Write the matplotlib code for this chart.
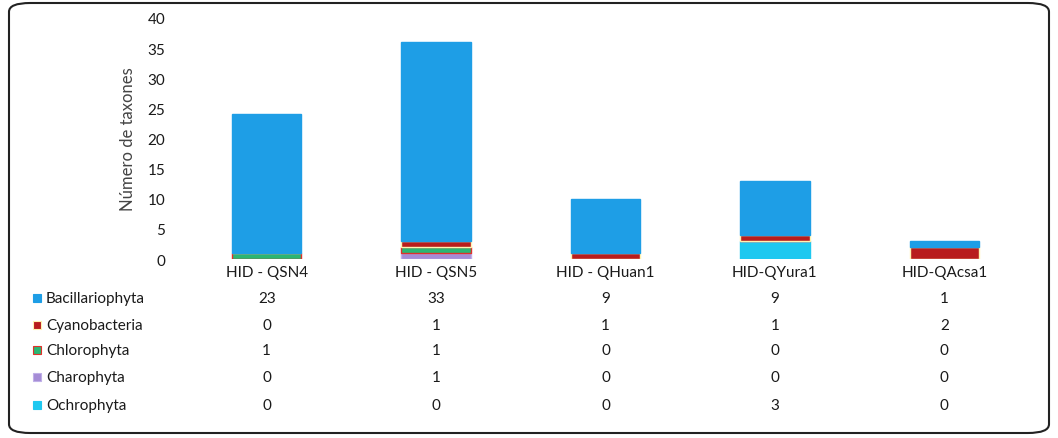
import matplotlib.pyplot as plt
import matplotlib.transforms as mtransforms
from matplotlib.patches import FancyBboxPatch, Rectangle
import numpy as np

plt.rcParams['font.family'] = ['Lato', 'DejaVu Sans']

# data
estaciones = ['HID - QSN4', 'HID - QSN5', 'HID - QHuan1', 'HID-QYura1', 'HID-QAcsa1']
grupos = ['Bacillariophyta', 'Cyanobacteria', 'Chlorophyta', 'Charophyta', 'Ochrophyta']
bacillariophyta = [23, 33, 9, 9, 1]
cyanobacteria = [0, 1, 1, 1, 2]
chlorophyta = [1, 1, 0, 0, 0]
charophyta = [0, 1, 0, 0, 0]
ochrophyta = [0, 0, 0, 3, 0]

valores = [bacillariophyta, cyanobacteria, chlorophyta, charophyta, ochrophyta]
colores = ['#1e9ee6', '#b81c1c', '#2bb673', '#a58cd6', '#1ec8f0']
bordes = ['#1e9ee6', '#fff3b0', '#e0302a', '#c0b0e8', '#1ec8f0']

W, H = 1058, 439
fig = plt.figure(figsize=(W / 100, H / 100), dpi=100)

# rounded frame
frame = FancyBboxPatch((9 / W, 5 / H), 1040 / W, 430 / H,
                       boxstyle="round,pad=0,rounding_size=0.02",
                       transform=fig.transFigure, facecolor='none',
                       edgecolor='#222222', linewidth=1.5, zorder=-1)
fig.patches.append(frame)

ax = fig.add_axes([182 / W, (H - 260) / H, 847 / W, 241 / H])
ax.set_facecolor('none')
x = np.arange(len(estaciones))

# stacked bars: bottom to top is the table order reversed
bottom = np.zeros(len(estaciones))
for i in reversed(range(len(grupos))):
    vals = np.array(valores[i])
    ax.bar(x, vals, bottom=bottom, width=0.41, color=colores[i],
           edgecolor=bordes[i], linewidth=1.0)
    bottom += vals

ax.set_xlim(-0.5, len(estaciones) - 0.5)
ax.set_ylim(0, 40)
ax.set_yticks(range(0, 41, 5))
ax.tick_params(axis='y', length=0, labelsize=11, colors='#1a1a1a', pad=12)
ax.set_xticks(x)
ax.set_xticklabels(estaciones, fontsize=11, color='#1a1a1a')
ax.tick_params(axis='x', length=0, pad=4)
for s in ax.spines.values():
    s.set_visible(False)
ax.set_ylabel('Número de taxones', fontsize=12, color='#444444', labelpad=8)

# data table below the chart
trans = mtransforms.blended_transform_factory(ax.transData, fig.transFigure)
filas_y = [299, 326, 351, 378, 406]
for i, g in enumerate(grupos):
    yf = (H - filas_y[i]) / H
    fig.patches.append(Rectangle((33 / W, yf - 4 / H), 8 / W, 8 / H,
                                 transform=fig.transFigure,
                                 facecolor=colores[i], edgecolor=bordes[i],
                                 linewidth=0.8))
    fig.text(46 / W, yf, g, fontsize=11, va='center', ha='left', color='#1a1a1a')
    for j, v in enumerate(valores[i]):
        ax.text(x[j], yf, str(v), transform=trans, fontsize=11,
                va='center', ha='center', color='#1a1a1a')

fig.savefig('out.png', dpi=100)
